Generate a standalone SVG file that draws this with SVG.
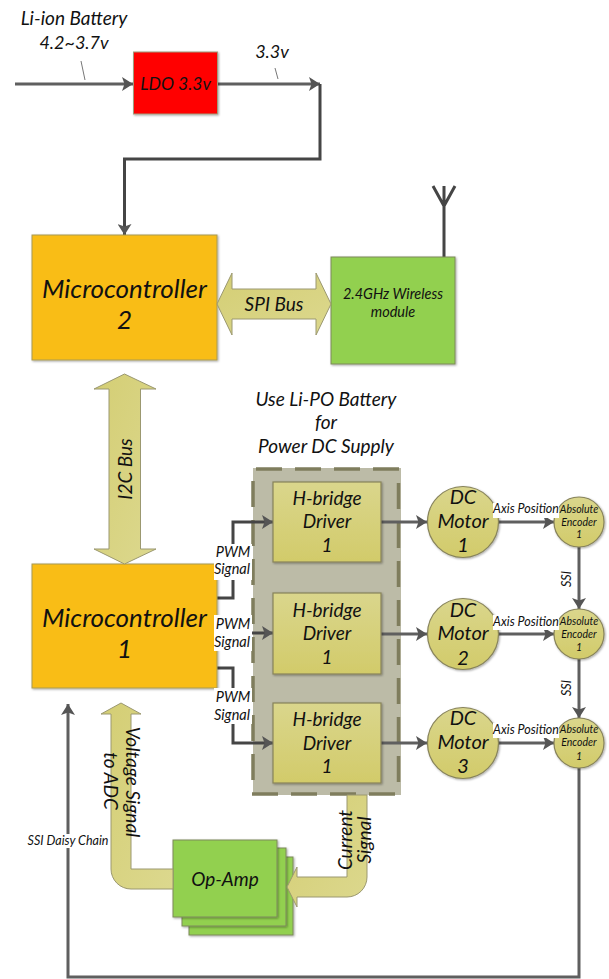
<svg xmlns="http://www.w3.org/2000/svg" width="609" height="979" viewBox="0 0 609 979">
<style>
text{font-family:Lato,"Open Sans","Liberation Sans",sans-serif;font-style:italic;fill:#111;text-anchor:middle}
.w{stroke:#5f5f5f;stroke-width:3;fill:none}
.n{stroke:#454545;stroke-width:3;fill:none}
.y{fill:#f9bd14;stroke:#a89a55;stroke-width:1}
.g{fill:#92d050;stroke:#7d8a5a;stroke-width:1}
.o{fill:url(#og);stroke:#87835a;stroke-width:1.2}
.a{fill:url(#ag);stroke:#9b9870;stroke-width:1}
.d{stroke:#7f7d5d;stroke-width:3.500;fill:none;stroke-dasharray:26 13}
.f{font-size:26px}.h{font-size:19px}.m{font-size:20px}.s{font-size:12.500px}.e{font-size:10.500px}.p{font-size:14.500px}
</style>
<defs>
<linearGradient id="og" x1="0" y1="0" x2="0" y2="1"><stop offset="0" stop-color="#dad68c"/><stop offset="1" stop-color="#d2cb6a"/></linearGradient>
<linearGradient id="ag" x1="0" y1="0" x2="1" y2="1"><stop offset="0" stop-color="#d4ce74"/><stop offset="1" stop-color="#dcd88e"/></linearGradient>
<marker id="ah" markerUnits="userSpaceOnUse" markerWidth="12" markerHeight="14" refX="11" refY="7" orient="auto"><path d="M0 0L11 7L0 14L2.500 7Z" fill="#555"/></marker>
<filter id="sh" x="-5%" y="-5%" width="110%" height="110%"><feDropShadow dx="1" dy="1" stdDeviation="0.800" flood-color="#000" flood-opacity="0.350"/></filter>
</defs>
<g id="panel"><rect x="253" y="468" width="148" height="327" fill="#bcbba7"/><path class="d" d="M256 469H400"/><path class="d" d="M398.500 483V785"/><path class="d" d="M253 481V782"/><path class="d" d="M252 794H397"/></g>
<g id="connectors">
<path class="w" d="M15 84H133" marker-end="url(#ah)"/>
<path class="w" d="M217 84H320" marker-end="url(#ah)"/>
<path class="n" d="M320 84V159H124.500V235" marker-end="url(#ah)"/>
<path d="M81 61L85 80M275 68L278 79" stroke="#777" stroke-width="1" fill="none"/>
<path class="n" d="M444 257V186M444 206L433 186M444 206L455 186"/>
<path class="n" d="M217 598H233V522H273" marker-end="url(#ah)"/>
<path class="n" d="M217 633H273" marker-end="url(#ah)"/>
<path class="n" d="M217 668H233V743H273" marker-end="url(#ah)"/>
<path class="w" d="M381 522H427" marker-end="url(#ah)"/>
<path class="w" d="M381 634H427" marker-end="url(#ah)"/>
<path class="w" d="M381 743H427" marker-end="url(#ah)"/>
<path class="w" d="M497 522H554" marker-end="url(#ah)"/>
<path class="w" d="M497 634H554" marker-end="url(#ah)"/>
<path class="w" d="M497 743H554" marker-end="url(#ah)"/>
<path class="w" d="M579 547V609" marker-end="url(#ah)"/>
<path class="w" d="M579 659V718" marker-end="url(#ah)"/>
<path class="w" d="M579 768V977H68V704" marker-end="url(#ah)"/>
</g>
<g id="ldo"><rect x="133.500" y="52" width="84" height="62" fill="#f00" stroke="#a09a7a" filter="url(#sh)"/><text x="175.500" y="90" style="font-size:17.500px">LDO 3.3v</text></g>
<text class="h" x="74" y="25">Li-ion Battery</text><text x="74" y="49" style="font-size:18px">4.2~3.7v</text><text x="272" y="58" style="font-size:18px">3.3v</text>
<g id="mc2"><rect class="y" x="32" y="235" width="185" height="125" filter="url(#sh)"/><text class="f" x="124.500" y="298">Microcontroller</text><text class="f" x="124.500" y="329">2</text></g>
<g id="mc1"><rect class="y" x="32" y="564" width="185" height="124" filter="url(#sh)"/><text class="f" x="124.500" y="627">Microcontroller</text><text class="f" x="124.500" y="658">1</text></g>
<g id="wireless"><rect class="g" x="331" y="257" width="124" height="107" filter="url(#sh)"/><text class="p" x="393" y="299">2.4GHz Wireless</text><text class="p" x="393" y="317">module</text></g>
<g id="spi"><path class="a" d="M217 304L232 273V289H316V273L331 304L316 335V319H232V335Z"/><text class="h" x="274" y="311">SPI Bus</text></g>
<g id="i2c"><path class="a" d="M124.500 374L156 389H140.500V549H156L124.500 564L94 549H109V389H94Z"/><text class="h" transform="translate(132 469) rotate(-90)">I2C Bus</text></g>
<text class="h" x="326" y="406">Use Li-PO Battery</text><text class="h" x="326" y="429">for</text><text class="h" x="326" y="453">Power DC Supply</text>
<g id="hb1"><rect class="o" x="273" y="482" width="108" height="80" filter="url(#sh)"/><text class="h" x="327" y="505">H-bridge</text><text class="h" x="327" y="528">Driver</text><text class="h" x="327" y="552">1</text></g>
<g id="hb2"><rect class="o" x="273" y="593" width="108" height="81" filter="url(#sh)"/><text class="h" x="327" y="617">H-bridge</text><text class="h" x="327" y="640">Driver</text><text class="h" x="327" y="664">1</text></g>
<g id="hb3"><rect class="o" x="273" y="703" width="108" height="80" filter="url(#sh)"/><text class="h" x="327" y="726">H-bridge</text><text class="h" x="327" y="750">Driver</text><text class="h" x="327" y="773">1</text></g>
<g id="m1"><circle class="o" cx="463" cy="522" r="35.500" filter="url(#sh)"/><text class="m" x="463" y="504">DC</text><text class="m" x="463" y="528">Motor</text><text class="m" x="463" y="552">1</text></g>
<g id="m2"><circle class="o" cx="463" cy="634" r="35.500" filter="url(#sh)"/><text class="m" x="463" y="617">DC</text><text class="m" x="463" y="640">Motor</text><text class="m" x="463" y="665">2</text></g>
<g id="m3"><circle class="o" cx="463" cy="743" r="35.500" filter="url(#sh)"/><text class="m" x="463" y="725">DC</text><text class="m" x="463" y="749">Motor</text><text class="m" x="463" y="773">3</text></g>
<g id="e1"><circle class="o" cx="579" cy="522" r="25" filter="url(#sh)"/><text class="e" x="579" y="513">Absolute</text><text class="e" x="579" y="526">Encoder</text><text class="e" x="579" y="538">1</text></g>
<g id="e2"><circle class="o" cx="579" cy="634" r="25" filter="url(#sh)"/><text class="e" x="579" y="625">Absolute</text><text class="e" x="579" y="638">Encoder</text><text class="e" x="579" y="651">1</text></g>
<g id="e3"><circle class="o" cx="579" cy="743" r="25" filter="url(#sh)"/><text class="e" x="579" y="733">Absolute</text><text class="e" x="579" y="746">Encoder</text><text class="e" x="579" y="760">1</text></g>
<g id="axislabels"><rect x="493" y="503" width="66" height="15" fill="#fff"/><rect x="493" y="615" width="66" height="15" fill="#fff"/><rect x="493" y="723" width="66" height="15" fill="#fff"/>
<text class="s" x="526" y="513">Axis Position</text><text class="s" x="526" y="626">Axis Position</text><text class="s" x="526" y="734">Axis Position</text></g>
<text class="s" transform="translate(571 579) rotate(-90)">SSI</text><text class="s" transform="translate(571 688) rotate(-90)">SSI</text>
<g id="pwm"><rect x="214" y="544" width="38" height="36" fill="#fff"/><rect x="214" y="615" width="38" height="36" fill="#fff"/><rect x="214" y="688" width="38" height="36" fill="#fff"/>
<text class="p" x="233" y="557">PWM</text><text class="p" x="232" y="574">Signal</text><text class="p" x="233" y="629">PWM</text><text class="p" x="232" y="647">Signal</text><text class="p" x="233" y="702">PWM</text><text class="p" x="232" y="720">Signal</text></g>
<g id="opamp"><rect class="g" x="189" y="857" width="104" height="78" filter="url(#sh)"/><rect class="g" x="182" y="848" width="104" height="78" filter="url(#sh)"/><rect class="g" x="173" y="840" width="104" height="77" filter="url(#sh)"/><text class="h" x="225" y="886">Op-Amp</text></g>
<g id="voltage"><path class="a" d="M173 869V889H131A20 20 0 0 1 111 869V714H101L121 703L141 714H131V869Z"/><text class="h" transform="translate(126 782) rotate(90)">Voltage Signal</text><text class="h" transform="translate(104 781) rotate(90)">to ADC</text></g>
<g id="current"><path class="a" d="M347 795H367V877A20 20 0 0 1 347 897H297V907L287 887L297 867V877H347Z"/><text class="h" transform="translate(352 840) rotate(-90)">Current</text><text class="h" transform="translate(371 840) rotate(-90)">Signal</text></g>
<rect x="28" y="834" width="79" height="14" fill="#fff"/><text x="68" y="845" style="font-size:12.500px">SSI Daisy Chain</text>
</svg>
